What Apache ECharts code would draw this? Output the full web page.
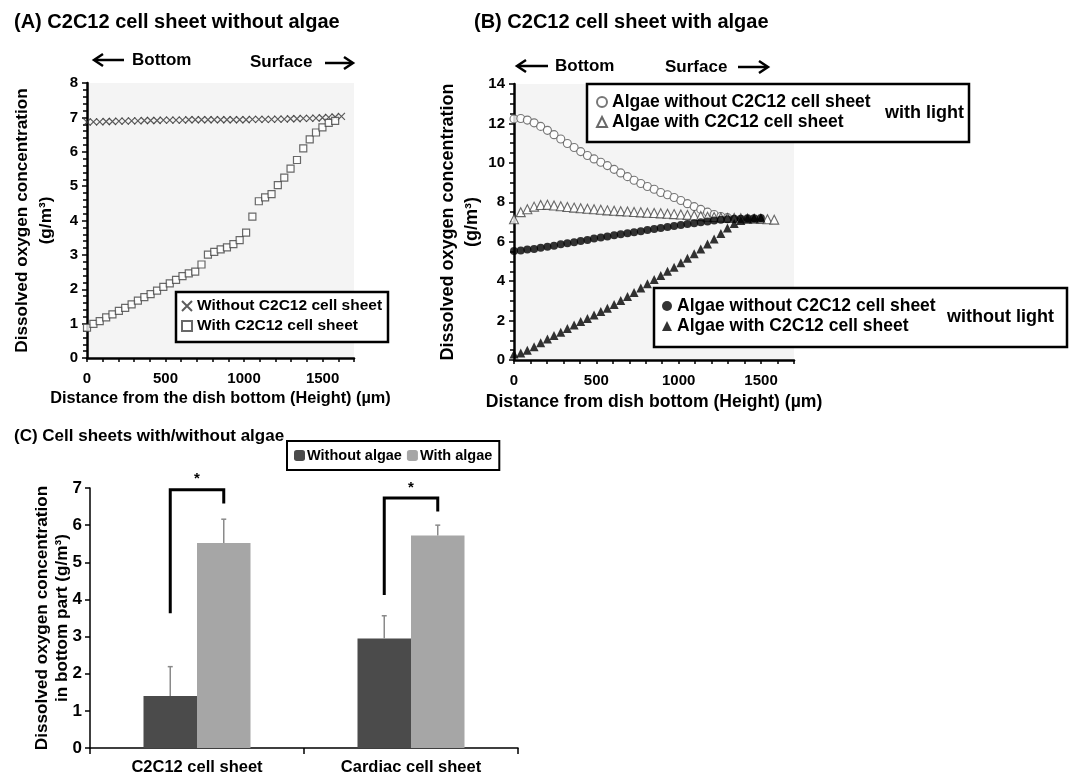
<!DOCTYPE html>
<html>
<head>
<meta charset="utf-8">
<title>Dissolved oxygen in cell sheets</title>
<script src="https://cdn.jsdelivr.net/npm/echarts@6/dist/echarts.min.js"></script>
<style>
  html, body { margin: 0; padding: 0; background: #fff; }
  #chart { width: 1072px; height: 779px; }
</style>
</head>
<body>
<div id="chart"></div>
<script>
// ---------------------------------------------------------------------------
// Data
// ---------------------------------------------------------------------------
// measuring heights (µm), shared by every profile
const heights = [0, 41, 81, 122, 162, 203, 243, 284, 324, 365, 405, 446, 486, 527, 567, 608, 648, 689, 729, 770,
  810, 851, 891, 932, 972, 1013, 1053, 1094, 1134, 1175, 1215, 1256, 1296, 1337, 1377, 1418, 1458, 1499, 1539, 1580, 1620];

// (A) without algae
const aWithoutSheet = [6.86, 6.87, 6.87, 6.88, 6.88, 6.89, 6.89, 6.90, 6.90, 6.91, 6.91, 6.91, 6.92, 6.92, 6.92, 6.92,
  6.93, 6.93, 6.93, 6.93, 6.93, 6.93, 6.93, 6.93, 6.93, 6.93, 6.94, 6.94, 6.94, 6.94, 6.95, 6.95, 6.96, 6.96, 6.97,
  6.97, 6.98, 6.99, 7.00, 7.01, 7.03];
const aWithSheet = [0.88, 0.99, 1.07, 1.18, 1.27, 1.37, 1.46, 1.56, 1.67, 1.77, 1.86, 1.96, 2.07, 2.17, 2.27, 2.38,
  2.46, 2.51, 2.72, 3.01, 3.09, 3.16, 3.22, 3.31, 3.43, 3.65, 4.11, 4.56, 4.67, 4.77, 5.03, 5.25, 5.51, 5.76, 6.10,
  6.36, 6.56, 6.71, 6.84, 6.90];

// (B) with algae, light on
const bLightWithout = [12.23, 12.25, 12.17, 12.03, 11.85, 11.65, 11.43, 11.21, 10.98, 10.78, 10.57, 10.37, 10.20,
  10.03, 9.86, 9.67, 9.49, 9.30, 9.12, 8.95, 8.80, 8.66, 8.50, 8.38, 8.24, 8.09, 7.93, 7.78, 7.64, 7.50, 7.38, 7.28, 7.22];
const bLightWith = [7.14, 7.50, 7.65, 7.78, 7.86, 7.87, 7.84, 7.80, 7.76, 7.73, 7.70, 7.67, 7.65, 7.62, 7.59, 7.57,
  7.55, 7.53, 7.51, 7.49, 7.47, 7.46, 7.44, 7.42, 7.40, 7.38, 7.36, 7.33, 7.30, 7.27, 7.25, 7.23, 7.21, 7.20, 7.19,
  7.18, 7.17, 7.16, 7.14, 7.12];
// (B) with algae, light off
const bDarkWithout = [5.53, 5.55, 5.60, 5.63, 5.70, 5.75, 5.80, 5.87, 5.92, 5.97, 6.04, 6.09, 6.16, 6.21, 6.26, 6.33,
  6.38, 6.43, 6.48, 6.53, 6.60, 6.65, 6.70, 6.75, 6.80, 6.85, 6.90, 6.94, 6.99, 7.02, 7.07, 7.11, 7.14, 7.16, 7.17,
  7.19, 7.19, 7.20];
const bDarkWith = [0.30, 0.36, 0.50, 0.67, 0.87, 1.06, 1.24, 1.41, 1.60, 1.78, 1.95, 2.11, 2.28, 2.46, 2.63, 2.81,
  3.02, 3.22, 3.43, 3.65, 3.87, 4.08, 4.29, 4.50, 4.71, 4.93, 5.16, 5.39, 5.63, 5.88, 6.14, 6.42, 6.70, 6.92, 7.08,
  7.15, 7.19, 7.20];

// (C) bottom part, mean and upper error
const sheetTypes = ['C2C12 cell sheet', 'Cardiac cell sheet'];
const noAlgaeMean = [1.40, 2.95];
const noAlgaeErr = [0.79, 0.61];
const algaeMean = [5.52, 5.72];
const algaeErr = [0.64, 0.28];
// significance brackets: left foot, top, right foot
const bracketLeft = [3.63, 4.12];
const bracketTop = [6.95, 6.73];
const bracketRight = [6.58, 6.37];

const xTicksA = [0, 500, 1000, 1500];

// ---------------------------------------------------------------------------
const FONT = '"Liberation Sans", Arial, sans-serif';

function pairs(vals) {
  return vals.map((v, i) => [heights[i], v]);
}

const crossPath = 'path://M0,0L10,10M10,0L0,10';

function valueXAxis(gridIndex, name, nameSize) {
  return {
    type: 'value', gridIndex: gridIndex, min: 0, max: 1700, interval: 100,
    name: name, nameLocation: 'middle', nameGap: 33,
    nameTextStyle: { fontFamily: FONT, fontWeight: 'bold', fontSize: nameSize, color: '#000' },
    axisLine: { lineStyle: { color: '#000', width: 2.5 } },
    axisTick: { show: true, length: 4, lineStyle: { color: '#000', width: 1.5 } },
    axisLabel: {
      margin: 13, fontFamily: FONT, fontWeight: 'bold', fontSize: 15, color: '#000',
      formatter: v => (xTicksA.indexOf(v) >= 0 ? String(v) : '')
    },
    splitLine: { show: false }
  };
}

function valueYAxis(gridIndex, max, interval, minorSplit, nameSize) {
  return {
    type: 'value', gridIndex: gridIndex, min: 0, max: max, interval: interval,
    name: 'Dissolved oxygen concentration\n(g/m³)', nameLocation: 'middle', nameRotate: 90, nameGap: 29,
    nameTextStyle: { fontFamily: FONT, fontWeight: 'bold', fontSize: nameSize, color: '#000', lineHeight: 24, align: 'center' },
    axisLine: { show: true, lineStyle: { color: '#000', width: 2.5 } },
    axisTick: { show: true, length: 5, lineStyle: { color: '#000', width: 1.5 } },
    minorTick: { show: true, splitNumber: minorSplit, length: 4, lineStyle: { color: '#000', width: 1.5 } },
    axisLabel: { margin: 9, fontFamily: FONT, fontWeight: 'bold', fontSize: 15, color: '#000' },
    splitLine: { show: false }
  };
}

function arrow(x1, x2, y) {
  const dir = x2 > x1 ? 1 : -1;
  return {
    type: 'group', children: [
      { type: 'line', shape: { x1: x1, y1: y, x2: x2 - dir * 2, y2: y }, style: { stroke: '#000', lineWidth: 2.5 } },
      { type: 'polyline', shape: { points: [[x2 - dir * 9, y - 6], [x2, y], [x2 - dir * 9, y + 6]] },
        style: { stroke: '#000', lineWidth: 2.5, fill: null } }
    ]
  };
}

function label(text, x, y, size, align) {
  return {
    type: 'text', x: x, y: y, z: 5,
    style: { text: text, fontFamily: FONT, fontWeight: 'bold', fontSize: size, fill: '#000',
      align: align || 'left', verticalAlign: 'middle' }
  };
}

function box(x, y, w, h) {
  return { type: 'rect', z: 3, shape: { x: x, y: y, width: w, height: h },
    style: { fill: '#fff', stroke: '#000', lineWidth: 2.5 } };
}

const legendTextA = { fontFamily: FONT, fontWeight: 'bold', fontSize: 15.5, color: '#000' };
const legendTextB = { fontFamily: FONT, fontWeight: 'bold', fontSize: 17.5, color: '#000' };

// error bars (upper half only) for panel C
function renderError(offset) {
  return function (params, api) {
    const base = api.coord([api.value(0), api.value(1)]);
    const top = api.coord([api.value(0), api.value(1) + api.value(2)]);
    const band = api.size([1, 0])[0];
    const x = base[0] + offset * band / 8;
    return {
      type: 'group', children: [
        { type: 'line', shape: { x1: x, y1: base[1], x2: x, y2: top[1] }, style: { stroke: '#8a8a8a', lineWidth: 1.5 } },
        { type: 'line', shape: { x1: x - 2.5, y1: top[1], x2: x + 2.5, y2: top[1] }, style: { stroke: '#8a8a8a', lineWidth: 1.5 } }
      ]
    };
  };
}

function renderBracket(params, api) {
  const band = api.size([1, 0])[0];
  const c = api.coord([api.value(0), api.value(2)]);
  const xl = c[0] - band / 8, xr = c[0] + band / 8;
  const yl = api.coord([api.value(0), api.value(1)])[1];
  const yr = api.coord([api.value(0), api.value(3)])[1];
  return {
    type: 'group', children: [
      { type: 'polyline', shape: { points: [[xl, yl], [xl, c[1]], [xr, c[1]], [xr, yr]] },
        style: { stroke: '#000', lineWidth: 3, fill: null } },
      { type: 'text', style: { x: (xl + xr) / 2, y: c[1] - 3, text: '*', fontFamily: FONT, fontWeight: 'bold',
        fontSize: 15, fill: '#000', align: 'center', verticalAlign: 'bottom' } }
    ]
  };
}

const chart = echarts.init(document.getElementById('chart'), null, { renderer: 'canvas' });

const titleStyle = size => ({ fontFamily: FONT, fontWeight: 'bold', fontSize: size, color: '#000' });

const option = {
  backgroundColor: '#fff',
  animation: false,
  title: [
    { text: '(A) C2C12 cell sheet without algae', left: 9, top: 7, textStyle: titleStyle(20) },
    { text: '(B) C2C12 cell sheet with algae', left: 469, top: 7, textStyle: titleStyle(20) },
    { text: '(C) Cell sheets with/without algae', left: 9, top: 423, textStyle: titleStyle(17) }
  ],
  grid: [
    { left: 87, top: 83, width: 267, height: 275, show: true, backgroundColor: '#f4f4f4', borderWidth: 0, outerBoundsMode: 'none' },
    { left: 514, top: 84, width: 280, height: 276, show: true, backgroundColor: '#f4f4f4', borderWidth: 0, outerBoundsMode: 'none' },
    { left: 90, top: 488, width: 428, height: 260, outerBoundsMode: 'none' }
  ],
  xAxis: [
    valueXAxis(0, 'Distance from the dish bottom (Height) (µm)', 16.3),
    valueXAxis(1, 'Distance from dish bottom (Height) (µm)', 17.6),
    {
      type: 'category', gridIndex: 2, data: sheetTypes,
      axisLine: { lineStyle: { color: '#000', width: 1.5 } },
      axisTick: { show: true, length: 6, lineStyle: { color: '#000', width: 1.5 } },
      axisLabel: { margin: 11, fontFamily: FONT, fontWeight: 'bold', fontSize: 16.5, color: '#000' }
    }
  ],
  yAxis: [
    valueYAxis(0, 8, 1, 5, 17.2),
    valueYAxis(1, 14, 2, 4, 18),
    {
      type: 'value', gridIndex: 2, min: 0, max: 7, interval: 1,
      name: 'Dissolved oxygen concentration\nin bottom part (g/m³)', nameLocation: 'middle', nameRotate: 90,
      nameGap: 18, nameMoveOverlap: false,
      nameTextStyle: { fontFamily: FONT, fontWeight: 'bold', fontSize: 17.2, color: '#000', lineHeight: 20, align: 'center' },
      axisLine: { show: true, lineStyle: { color: '#000', width: 1.5 } },
      axisTick: { show: true, length: 5, lineStyle: { color: '#000', width: 1.5 } },
      axisLabel: { margin: 8, fontFamily: FONT, fontWeight: 'bold', fontSize: 17, color: '#000' },
      splitLine: { show: false }
    }
  ],
  legend: [
    { data: ['Without C2C12 cell sheet', 'With C2C12 cell sheet'], orient: 'vertical', left: 181, top: 298,
      itemGap: 4, itemWidth: 10, itemHeight: 10, textStyle: legendTextA, padding: 0 },
    { data: ['Algae without C2C12 cell sheet', 'Algae with C2C12 cell sheet'], orient: 'vertical', left: 596, top: 93,
      itemGap: 2, itemWidth: 10, itemHeight: 10, textStyle: legendTextB, padding: 0 },
    { data: ['Algae without C2C12 cell sheet ', 'Algae with C2C12 cell sheet '], orient: 'vertical', left: 662, top: 297,
      itemGap: 2, itemWidth: 10, itemHeight: 10, textStyle: legendTextB, padding: 0 },
    { data: ['Without algae', 'With algae'], left: 287, top: 441, itemGap: 5, itemWidth: 11, itemHeight: 11,
      borderColor: '#000', borderWidth: 2, padding: [7, 7, 7, 7],
      textStyle: { fontFamily: FONT, fontWeight: 'bold', fontSize: 14.5, color: '#000', padding: [0, 0, 0, -3] } }
  ],
  series: [
    // panel A
    { name: 'Without C2C12 cell sheet', type: 'scatter', xAxisIndex: 0, yAxisIndex: 0, data: pairs(aWithoutSheet),
      symbol: crossPath, symbolSize: 7, itemStyle: { color: 'transparent', borderColor: '#333', borderWidth: 1.2 } },
    { name: 'With C2C12 cell sheet', type: 'scatter', xAxisIndex: 0, yAxisIndex: 0, data: pairs(aWithSheet),
      symbol: 'rect', symbolSize: 7, itemStyle: { color: '#fff', borderColor: '#444', borderWidth: 1.2 } },
    // panel B, with light
    { name: 'Algae without C2C12 cell sheet', type: 'scatter', xAxisIndex: 1, yAxisIndex: 1, data: pairs(bLightWithout),
      symbol: 'circle', symbolSize: 8, itemStyle: { color: '#fff', borderColor: '#555', borderWidth: 1.1 } },
    { name: 'Algae with C2C12 cell sheet', type: 'scatter', xAxisIndex: 1, yAxisIndex: 1, data: pairs(bLightWith),
      symbol: 'triangle', symbolSize: 9, itemStyle: { color: '#fff', borderColor: '#444', borderWidth: 1.1 } },
    // panel B, without light
    { name: 'Algae without C2C12 cell sheet ', type: 'scatter', xAxisIndex: 1, yAxisIndex: 1, data: pairs(bDarkWithout),
      symbol: 'circle', symbolSize: 8, itemStyle: { color: '#000' } },
    { name: 'Algae with C2C12 cell sheet ', type: 'scatter', xAxisIndex: 1, yAxisIndex: 1, data: pairs(bDarkWith),
      symbol: 'triangle', symbolSize: 9, itemStyle: { color: '#000' } },
    // panel C
    { name: 'Without algae', type: 'bar', xAxisIndex: 2, yAxisIndex: 2, data: noAlgaeMean,
      barGap: '0%', barCategoryGap: '50%', itemStyle: { color: '#4b4b4b' } },
    { name: 'With algae', type: 'bar', xAxisIndex: 2, yAxisIndex: 2, data: algaeMean,
      barGap: '0%', barCategoryGap: '50%', itemStyle: { color: '#a6a6a6' } },
    { type: 'custom', xAxisIndex: 2, yAxisIndex: 2, z: 5, renderItem: renderError(-1),
      data: noAlgaeMean.map((v, i) => [i, v, noAlgaeErr[i]]) },
    { type: 'custom', xAxisIndex: 2, yAxisIndex: 2, z: 5, renderItem: renderError(1),
      data: algaeMean.map((v, i) => [i, v, algaeErr[i]]) },
    { type: 'custom', xAxisIndex: 2, yAxisIndex: 2, z: 6, renderItem: renderBracket,
      data: bracketTop.map((v, i) => [i, bracketLeft[i], v, bracketRight[i]]) }
  ],
  graphic: [
    // legend boxes
    box(176, 292, 212, 50),
    box(587, 84, 382, 58),
    box(654, 288, 413, 59),
    label('with light', 885, 113, 18),
    label('without light', 947, 317, 18),
    // direction hints
    arrow(124, 94, 60), label('Bottom', 132, 60, 17),
    label('Surface', 250, 62, 17), arrow(325, 353, 63),
    arrow(548, 517, 66), label('Bottom', 555, 66, 17),
    label('Surface', 665, 67, 17), arrow(738, 768, 67)
  ]
};

chart.setOption(option);
</script>
</body>
</html>
